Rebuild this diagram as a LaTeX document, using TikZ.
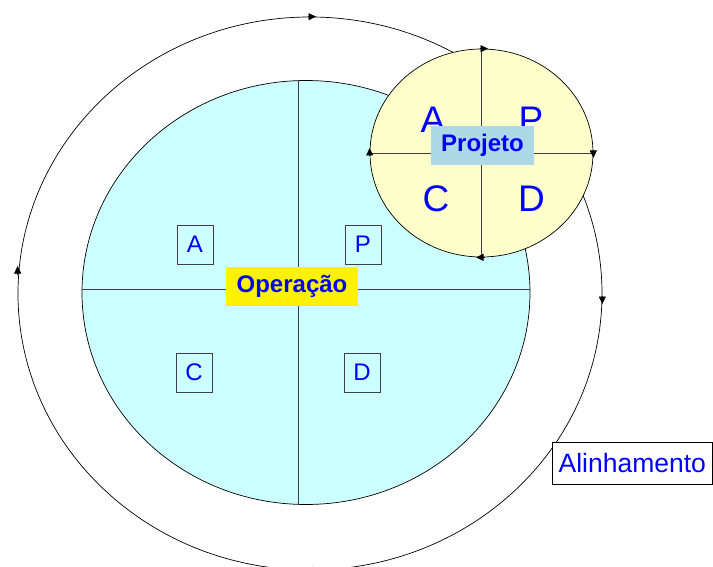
\documentclass[tikz,border=0pt]{standalone}
\usepackage{fontspec}
\setmainfont{Liberation Sans}
\usetikzlibrary{shapes.geometric,arrows.meta}
\definecolor{opCyan}{HTML}{CCFFFF}
\definecolor{prYellow}{HTML}{FFFFCC}
\definecolor{prBlue}{HTML}{ADD8E6}
\definecolor{txtBlue}{HTML}{0000FF}
\newcommand{\fsize}[1]{\fontsize{#1}{#1}\selectfont}

\begin{document}
\begin{tikzpicture}[x=1pt,y=-1pt]
  \tikzset{
    ring/.style={ellipse,draw,line width=0.7pt,inner sep=0pt},
    crossline/.style={draw=black!75,line width=0.7pt},
    tipmark/.style={line width=0.7pt,-{Triangle[length=7.5pt,width=7pt]}},
    letterbox/.style={draw=black!75,fill=opCyan,text=txtBlue,font=\fsize{24},
      minimum width=36pt,minimum height=39pt,inner sep=0pt},
    bigletter/.style={text=txtBlue,font=\fsize{37},anchor=base,inner sep=0pt},
    tag/.style={text=txtBlue,font=\bfseries\fsize{24},inner sep=0pt}
  }
  \useasboundingbox (0,0) rectangle (713,567);
  % Alinhamento
  \node[ring,minimum width=584pt,minimum height=553pt] (AL) at (310,293.5) {};
  \draw[tipmark] ([xshift=-2pt]AL.north) -- ([xshift=6pt]AL.north);
  \draw[tipmark] ([yshift=-2pt]AL.east) -- ([yshift=-10.5pt]AL.east);
  \draw[tipmark] ([xshift=3pt]AL.south) -- ([xshift=-5pt]AL.south);
  \draw[tipmark] ([yshift=19pt]AL.west) -- ([yshift=27.5pt]AL.west);
  % Operacao
  \node[ring,fill=opCyan,minimum width=448pt,minimum height=424pt] (OP) at (306,292.5) {};
  \draw[crossline] ([xshift=-8pt]OP.north) -- ([xshift=-8pt]OP.south);
  \draw[crossline] ([yshift=3.5pt]OP.west) -- ([yshift=3.5pt]OP.east);
  \node[letterbox] (OP-A) at (195,244.5) {A};
  \node[letterbox] (OP-P) at (363,244.5) {P};
  \node[letterbox] (OP-C) at (194,372.5) {C};
  \node[letterbox] (OP-D) at (362,372.5) {D};
  \node[tag,fill=yellow,minimum width=132pt,minimum height=39pt] (OP-1) at (292,286.5) {Operação};
  % Projeto
  \node[ring,fill=prYellow,minimum width=223pt,minimum height=208pt] (PR) at (481.5,153) {};
  \draw[crossline] (PR.north) -- (PR.south);
  \draw[crossline] (PR.west) -- (PR.east);
  \draw[tipmark] ([xshift=-2pt]PR.north) -- ([xshift=6.5pt]PR.north);
  \draw[tipmark] ([yshift=3pt]PR.east) -- ([yshift=-5pt]PR.east);
  \draw[tipmark] ([xshift=3pt]PR.south) -- ([xshift=-5.5pt]PR.south);
  \draw[tipmark] ([yshift=-3pt]PR.west) -- ([yshift=5pt]PR.west);
  \node[bigletter] (PR-A) at (433,133) {A};
  \node[bigletter] (PR-P) at (531,133) {P};
  \node[bigletter] (PR-C) at (436,211.5) {C};
  \node[bigletter] (PR-D) at (531.5,211.5) {D};
  \node[tag,fill=prBlue,minimum width=103pt,minimum height=39pt] (PR-1) at (482.5,145.5) {Projeto};
  \node[draw,fill=white,text=txtBlue,font=\fsize{26.5},line width=0.7pt,
    minimum width=160pt,minimum height=42pt,inner sep=0pt] (AL-1) at (632.3,463) {Alinhamento};
\end{tikzpicture}
\end{document}
